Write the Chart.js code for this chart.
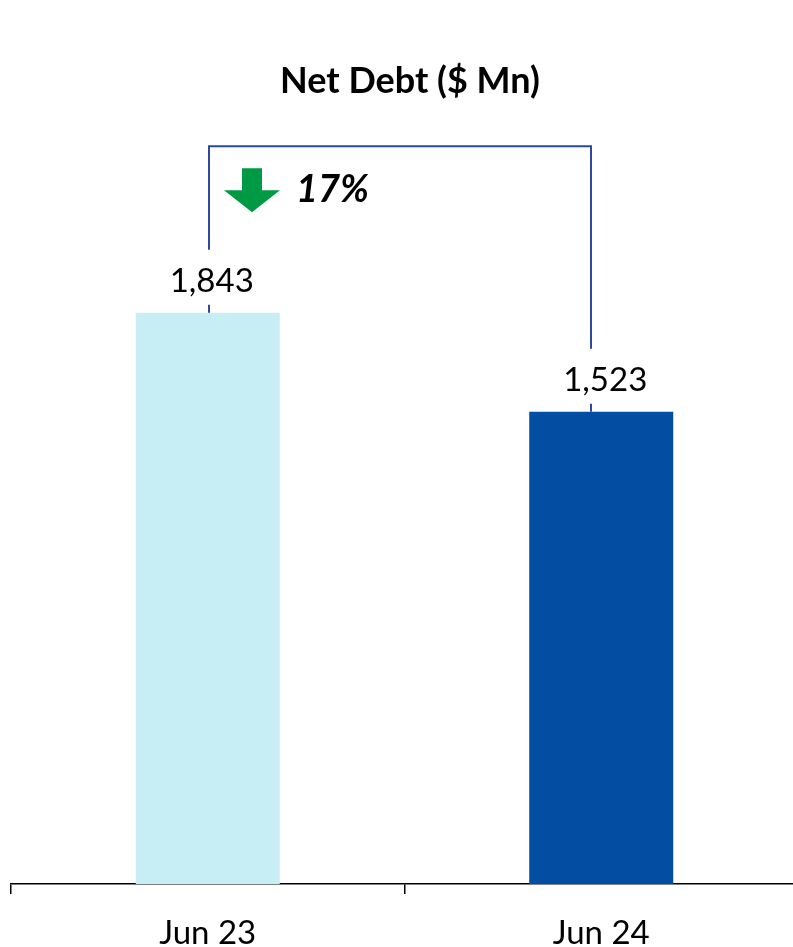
<!DOCTYPE html>
<html>
<head>
<meta charset="utf-8">
<title>Net Debt ($ Mn)</title>
<script src="https://cdn.jsdelivr.net/npm/chart.js@4.4.1/dist/chart.umd.min.js"></script>
<style>
  html, body { margin: 0; padding: 0; background: #ffffff; overflow: hidden; }
  #wrap { position: relative; width: 800px; height: 947px; }
</style>
</head>
<body>
<div id="wrap"><canvas id="chart"></canvas></div>
<script>
// Net debt by period ($ Mn)
const periods = ['Jun 23', 'Jun 24'];
const netDebt = [1843, 1523];
const barColors = ['#C8EEF5', '#034EA2'];
const changeLabel = '17%';
const titleText = 'Net Debt ($ Mn)';
const yMax = 2500;
const bracketLevel = 2380;

const FONT = 'Lato, "Open Sans", sans-serif';

const overlay = {
  id: 'overlay',
  afterDatasetsDraw(chart) {
    const { ctx } = chart;
    const meta = chart.getDatasetMeta(0);
    const yScale = chart.scales.y;
    const bracketY = yScale.getPixelForValue(bracketLevel);

    // title
    ctx.save();
    ctx.fillStyle = '#000000';
    ctx.font = 'bold 36px ' + FONT;
    ctx.textAlign = 'center';
    ctx.textBaseline = 'alphabetic';
    ctx.fillText(titleText, 410, 93);

    // value labels
    ctx.font = '33px ' + FONT;
    meta.data.forEach((bar, i) => {
      ctx.fillText(netDebt[i].toLocaleString('en-US'), bar.x + 4, bar.y - 21);
    });

    // bracket linking the two bars
    ctx.strokeStyle = '#2E4A9E';
    ctx.lineWidth = 2;
    const left = { x: Math.round(meta.data[0].x) + 1, y: meta.data[0].y };
    const right = { x: Math.round(meta.data[1].x) - 10, y: meta.data[1].y };
    ctx.beginPath();
    [left, right].forEach(p => {
      ctx.moveTo(p.x, p.y);
      ctx.lineTo(p.x, p.y - 8);
    });
    ctx.moveTo(left.x, left.y - 63);
    ctx.lineTo(left.x, bracketY);
    ctx.lineTo(right.x, bracketY);
    ctx.lineTo(right.x, right.y - 63);
    ctx.stroke();

    // down arrow
    const ax = left.x + 43;
    const ay = bracketY + 22;
    ctx.fillStyle = '#009A44';
    ctx.beginPath();
    ctx.moveTo(ax - 10, ay);
    ctx.lineTo(ax + 10, ay);
    ctx.lineTo(ax + 10, ay + 22);
    ctx.lineTo(ax + 28, ay + 22);
    ctx.lineTo(ax, ay + 44);
    ctx.lineTo(ax - 28, ay + 22);
    ctx.lineTo(ax - 10, ay + 22);
    ctx.closePath();
    ctx.fill();

    // change label
    ctx.fillStyle = '#000000';
    ctx.font = 'italic bold 38px ' + FONT;
    ctx.textAlign = 'left';
    ctx.fillText(changeLabel, left.x + 87, bracketY + 56);
    ctx.restore();
  }
};

new Chart(document.getElementById('chart'), {
  type: 'bar',
  data: {
    labels: periods,
    datasets: [{
      data: netDebt,
      backgroundColor: barColors,
      borderWidth: 0,
      categoryPercentage: 1,
      barPercentage: 0.366
    }]
  },
  options: {
    responsive: true,
    maintainAspectRatio: false,
    animation: false,
    events: [],
    layout: { padding: { top: 109, left: 11, right: 2, bottom: 0 } },
    plugins: {
      legend: { display: false },
      title: { display: false },
      tooltip: { enabled: false }
    },
    scales: {
      x: {
        grid: {
          offset: true,
          drawOnChartArea: false,
          drawTicks: true,
          tickLength: 10,
          color: '#000000',
          lineWidth: 1.5
        },
        border: { display: true, color: '#000000', width: 1.5 },
        ticks: {
          color: '#000000',
          font: { family: FONT, size: 33 },
          padding: 20
        },
        afterFit(scale) { scale.height = 63; }
      },
      y: {
        display: false,
        min: 0,
        max: yMax
      }
    }
  },
  plugins: [overlay]
});
</script>
</body>
</html>
